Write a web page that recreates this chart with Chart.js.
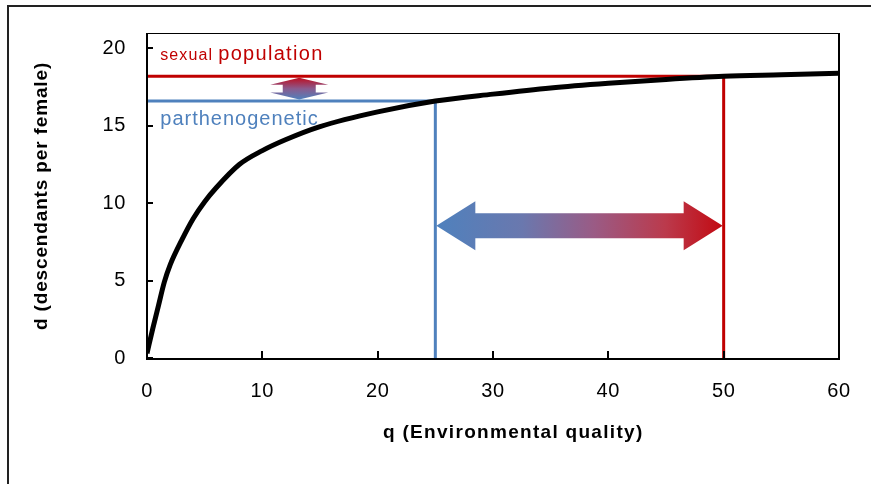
<!DOCTYPE html>
<html>
<head>
<meta charset="utf-8">
<script src="https://cdn.jsdelivr.net/npm/chart.js@4.4.1/dist/chart.umd.min.js"></script>
<style>
html,body{margin:0;padding:0;background:#fff;overflow:hidden;}
#wrap{width:871px;height:484px;position:relative;}
</style>
</head>
<body>
<div id="wrap"><canvas id="c" width="871" height="484"></canvas></div>
<script>
// ---- data ----
const qValues = [0, 0.5, 1, 1.5, 2, 3, 4, 5, 6, 8, 10, 12, 15, 20, 25, 30, 35, 40, 45, 50, 55, 60];
const dValues = [0.3, 1.9, 3.4, 4.9, 6.0, 7.6, 9.0, 10.1, 11.0, 12.5, 13.4, 14.1, 14.95, 15.9, 16.6, 17.05, 17.45, 17.75, 18.0, 18.2, 18.3, 18.4];
const xTicks = [0, 10, 20, 30, 40, 50, 60];
const yTicks = [0, 5, 10, 15, 20];
const sexualQ = [0, 50, 50];
const sexualD = [18.2, 18.2, 0];
const partheQ = [0, 25, 25];
const partheD = [16.6, 16.6, 0];
const xTitle = 'q (Environmental quality)';
const yTitle = 'd (descendants per female)';
const sexualSmall = 'sexual';
const sexualBig = 'population';
const partheLabel = 'parthenogenetic';

const RED = '#c00000';
const BLUE = '#4f81bd';
const FONT = '"Liberation Sans", Arial, sans-serif';

const toPts = (xs, ys) => xs.map((x, i) => ({x: x, y: ys[i]}));

const deco = {
  id: 'deco',
  beforeDraw(chart) {
    const ctx = chart.ctx;
    ctx.save();
    ctx.fillStyle = '#fff';
    ctx.fillRect(0, 0, chart.width, chart.height);
    ctx.strokeStyle = '#222';
    ctx.lineWidth = 2;
    ctx.strokeRect(8, 6, chart.width + 20, chart.height + 20);
    ctx.restore();
    ctx.letterSpacing = '0.6px';
  },
  afterDatasetsDraw(chart) {
    const ctx = chart.ctx;
    const xs = chart.scales.x, ys = chart.scales.y;
    const a = chart.chartArea;
    ctx.save();

    // horizontal double arrow between the two vertical lines
    const hx1 = xs.getPixelForValue(partheQ[1]) + 1;
    const hx2 = xs.getPixelForValue(sexualQ[1]) - 1;
    const hy = ys.getPixelForValue(8.55);
    const hl = 39, hh = 24.5, sh = 12.5;
    let g = ctx.createLinearGradient(hx1, 0, hx2, 0);
    g.addColorStop(0, '#4f81bd');
    g.addColorStop(0.3, '#6a78ae');
    g.addColorStop(0.55, '#9a5b85');
    g.addColorStop(0.8, '#bb3a4c');
    g.addColorStop(1, '#c20a12');
    ctx.fillStyle = g;
    ctx.beginPath();
    ctx.moveTo(hx1, hy);
    ctx.lineTo(hx1 + hl, hy - hh);
    ctx.lineTo(hx1 + hl, hy - sh);
    ctx.lineTo(hx2 - hl, hy - sh);
    ctx.lineTo(hx2 - hl, hy - hh);
    ctx.lineTo(hx2, hy);
    ctx.lineTo(hx2 - hl, hy + hh);
    ctx.lineTo(hx2 - hl, hy + sh);
    ctx.lineTo(hx1 + hl, hy + sh);
    ctx.lineTo(hx1 + hl, hy + hh);
    ctx.closePath();
    ctx.fill();

    // vertical double arrow between the two horizontal lines
    const vx = xs.getPixelForValue(13.2);
    const vy1 = ys.getPixelForValue(sexualD[0]) + 1.5;
    const vy2 = ys.getPixelForValue(partheD[0]) - 1.5;
    const vl = 7, vw = 29, vs = 16.5;
    g = ctx.createLinearGradient(0, vy1, 0, vy2);
    g.addColorStop(0, '#bd0f22');
    g.addColorStop(0.5, '#8a5b8e');
    g.addColorStop(1, '#4f81bd');
    ctx.fillStyle = g;
    ctx.beginPath();
    ctx.moveTo(vx, vy1);
    ctx.lineTo(vx + vw, vy1 + vl);
    ctx.lineTo(vx + vs, vy1 + vl);
    ctx.lineTo(vx + vs, vy2 - vl);
    ctx.lineTo(vx + vw, vy2 - vl);
    ctx.lineTo(vx, vy2);
    ctx.lineTo(vx - vw, vy2 - vl);
    ctx.lineTo(vx - vs, vy2 - vl);
    ctx.lineTo(vx - vs, vy1 + vl);
    ctx.lineTo(vx - vw, vy1 + vl);
    ctx.closePath();
    ctx.fill();

    // annotation texts
    ctx.textBaseline = 'alphabetic';
    ctx.textAlign = 'left';
    ctx.fillStyle = RED;
    ctx.font = '16px ' + FONT;
    ctx.letterSpacing = '1.1px';
    const tx = xs.getPixelForValue(1.15);
    const ty1 = ys.getPixelForValue(19.28);
    ctx.fillText(sexualSmall, tx, ty1);
    ctx.font = '20px ' + FONT;
    ctx.letterSpacing = '1.3px';
    ctx.fillText(sexualBig, tx + 58, ty1);
    ctx.fillStyle = BLUE;
    ctx.letterSpacing = '1px';
    ctx.fillText(partheLabel, tx, ys.getPixelForValue(15.04));

    // plot box
    ctx.letterSpacing = '0px';
    ctx.strokeStyle = '#000';
    ctx.lineWidth = 1;
    ctx.beginPath();
    ctx.moveTo(a.left, a.top + 0.5);
    ctx.lineTo(a.right, a.top + 0.5);
    ctx.stroke();
    ctx.lineWidth = 2;
    ctx.beginPath();
    ctx.moveTo(a.right, a.top);
    ctx.lineTo(a.right, a.bottom);
    ctx.stroke();
    ctx.beginPath();
    ctx.moveTo(a.left, a.top);
    ctx.lineTo(a.left, a.bottom + 1);
    ctx.lineTo(a.right + 1, a.bottom + 1);
    ctx.stroke();

    // inner tick marks
    ctx.lineWidth = 2;
    xs.ticks.forEach(t => {
      const px = Math.round(xs.getPixelForValue(t.value));
      ctx.beginPath();
      ctx.moveTo(px, a.bottom);
      ctx.lineTo(px, a.bottom - 7);
      ctx.stroke();
    });
    ys.ticks.forEach(t => {
      const py = Math.round(ys.getPixelForValue(t.value));
      ctx.beginPath();
      ctx.moveTo(a.left, py);
      ctx.lineTo(a.left + 6, py);
      ctx.stroke();
    });

    // axis titles
    ctx.fillStyle = '#000';
    ctx.font = 'bold 19px ' + FONT;
    ctx.letterSpacing = '1.3px';
    ctx.textAlign = 'left';
    ctx.textBaseline = 'alphabetic';
    ctx.fillText(xTitle, 383, 438);
    ctx.save();
    ctx.translate(47, 196);
    ctx.rotate(-Math.PI / 2);
    ctx.textAlign = 'left';
    ctx.letterSpacing = '0.85px';
    const w = ctx.measureText(yTitle).width;
    ctx.fillText(yTitle, -w / 2, 0);
    ctx.restore();

    ctx.restore();
  }
};

new Chart(document.getElementById('c'), {
  type: 'scatter',
  data: {
    datasets: [
      {
        label: 'd(q)',
        data: toPts(qValues, dValues),
        showLine: true,
        borderColor: '#000',
        borderWidth: 5,
        pointRadius: 0,
        cubicInterpolationMode: 'monotone',
        fill: false
      },
      {
        label: 'sexual population',
        data: toPts(sexualQ, sexualD),
        showLine: true,
        borderColor: RED,
        borderWidth: 3,
        pointRadius: 0,
        tension: 0,
        fill: false
      },
      {
        label: 'parthenogenetic',
        data: toPts(partheQ, partheD),
        showLine: true,
        borderColor: BLUE,
        borderWidth: 3,
        pointRadius: 0,
        tension: 0,
        fill: false
      }
    ]
  },
  options: {
    responsive: false,
    animation: false,
    devicePixelRatio: 1,
    layout: {padding: {top: 33, right: 32, left: 0, bottom: 0}},
    plugins: {legend: {display: false}, tooltip: {enabled: false}, title: {display: false}},
    scales: {
      x: {
        type: 'linear',
        position: 'bottom',
        min: 0,
        max: 60,
        afterBuildTicks: s => { s.ticks = xTicks.map(v => ({value: v})); },
        afterFit: s => { s.height = 126; s.paddingLeft = 0; s.paddingRight = 0; },
        grid: {display: false, drawTicks: false, tickLength: 0},
        border: {display: false},
        ticks: {font: {family: FONT, size: 20}, color: '#000', padding: 21, maxRotation: 0, autoSkip: false}
      },
      y: {
        type: 'linear',
        position: 'left',
        min: 0,
        max: 21,
        afterBuildTicks: s => { s.ticks = yTicks.map(v => ({value: v})); },
        afterFit: s => { s.width = 147; s.paddingTop = 0; s.paddingBottom = 0; },
        grid: {display: false, drawTicks: false, tickLength: 0},
        border: {display: false},
        ticks: {font: {family: FONT, size: 20}, color: '#000', padding: 21, autoSkip: false}
      }
    }
  },
  plugins: [deco]
});
</script>
</body>
</html>
